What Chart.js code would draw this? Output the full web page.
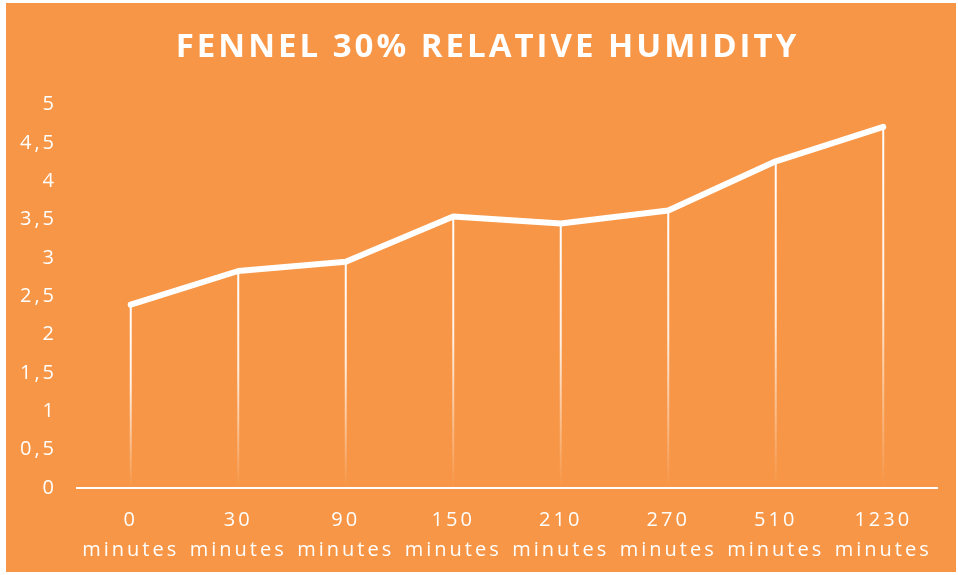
<!DOCTYPE html>
<html>
<head>
<meta charset="utf-8">
<title>Fennel 30% relative humidity</title>
<script src="https://cdn.jsdelivr.net/npm/chart.js@4.4.1/dist/chart.umd.min.js"></script>
<style>
    html, body {
        margin: 0;
        padding: 0;
        background: #ffffff;
    }
    #panel {
        position: absolute;
        left: 6px;
        top: 3px;
        width: 950px;
        height: 569px;
        background: #f79646;
    }
</style>
</head>
<body>
<div id="panel">
    <canvas id="humidityChart"></canvas>
</div>
<script>
// Measurements per time step
const timeLabels = ['0', '30', '90', '150', '210', '270', '510', '1230'];
const timeUnit = 'minutes';
const fennelValues = [2.39, 2.83, 2.95, 3.54, 3.45, 3.62, 4.26, 4.71];

// Value axis
const yMin = 0;
const yMax = 5;
const yStep = 0.5;

const WHITE = '#ffffff';
const LETTER_SPACING = '3px';

// Canvas letter spacing (reset whenever the canvas is resized)
const spacingPlugin = {
    id: 'spacing',
    beforeLayout: function(chart) {
        chart.ctx.letterSpacing = LETTER_SPACING;
    },
    beforeDraw: function(chart) {
        chart.ctx.letterSpacing = LETTER_SPACING;
    }
};

// Centre the title a little right of the canvas middle
const titleShiftPlugin = {
    id: 'titleShift',
    afterLayout: function(chart) {
        if (chart.titleBlock) {
            chart.titleBlock.left += 32;
        }
    }
};

// Vertical drop lines from each point down to the axis, fading out
const dropLinesPlugin = {
    id: 'dropLines',
    beforeDatasetsDraw: function(chart) {
        const ctx = chart.ctx;
        const meta = chart.getDatasetMeta(0);
        const bottom = chart.scales.y.getPixelForValue(yMin);
        ctx.save();
        ctx.lineWidth = 2;
        meta.data.forEach(point => {
            const grad = ctx.createLinearGradient(0, point.y, 0, bottom);
            grad.addColorStop(0, 'rgba(255,255,255,1)');
            grad.addColorStop(0.45, 'rgba(255,255,255,0.85)');
            grad.addColorStop(1, 'rgba(255,255,255,0)');
            ctx.strokeStyle = grad;
            ctx.beginPath();
            ctx.moveTo(point.x, point.y);
            ctx.lineTo(point.x, bottom);
            ctx.stroke();
        });
        ctx.restore();
    }
};

Chart.defaults.font.family = "'Open Sans', sans-serif";
Chart.defaults.color = WHITE;

const ctx = document.getElementById('humidityChart').getContext('2d');
const chart = new Chart(ctx, {
    type: 'line',
    data: {
        labels: timeLabels.map(t => [t, timeUnit]),
        datasets: [{
            label: 'Fennel',
            data: fennelValues,
            borderColor: WHITE,
            borderWidth: 6,
            borderCapStyle: 'round',
            borderJoinStyle: 'round',
            pointRadius: 0,
            tension: 0,
            fill: false
        }]
    },
    options: {
        responsive: true,
        maintainAspectRatio: false,
        animation: false,
        layout: {
            padding: { top: 25, right: 19, bottom: 0, left: 0 }
        },
        scales: {
            x: {
                offset: true,
                grid: { display: false, drawTicks: false },
                border: { display: true, color: WHITE, width: 2 },
                afterFit: function(scale) {
                    scale.height = 84;
                },
                ticks: {
                    color: WHITE,
                    padding: 17,
                    maxRotation: 0,
                    autoSkip: false,
                    font: { size: 20, lineHeight: '30px' }
                }
            },
            y: {
                min: yMin,
                max: yMax,
                grid: { display: false, drawTicks: false },
                border: { display: false },
                afterFit: function(scale) {
                    scale.width = 71;
                },
                ticks: {
                    stepSize: yStep,
                    color: WHITE,
                    padding: 20,
                    font: { size: 20 },
                    callback: function(value) {
                        return String(value).replace('.', ',');
                    }
                }
            }
        },
        plugins: {
            legend: { display: false },
            tooltip: { enabled: false },
            title: {
                display: true,
                text: 'FENNEL 30% RELATIVE HUMIDITY',
                color: WHITE,
                font: { size: 33, weight: 'bold', lineHeight: 1.2 },
                padding: { top: 0, bottom: 37 }
            }
        }
    },
    plugins: [spacingPlugin, titleShiftPlugin, dropLinesPlugin]
});
</script>
</body>
</html>
